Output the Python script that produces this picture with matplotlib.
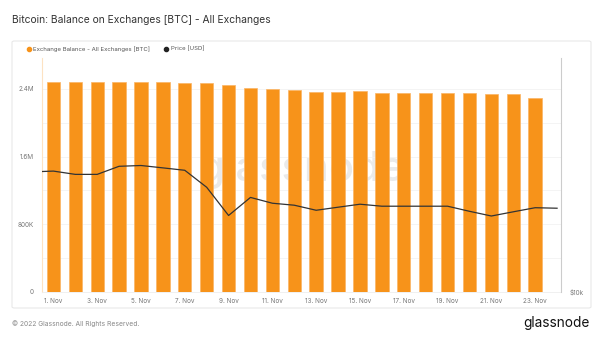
import matplotlib.pyplot as plt
import numpy as np
from matplotlib.lines import Line2D
from matplotlib.patches import FancyBboxPatch
from matplotlib.ticker import FixedLocator, FuncFormatter, NullLocator

plt.rcParams['font.family'] = ['Inter', 'DejaVu Sans']

# Daily exchange balance, 1-23 Nov 2022 (BTC)
balance_days = list(range(1, 24))
balance_btc = [2.486e6, 2.486e6, 2.479e6, 2.486e6, 2.486e6, 2.486e6, 2.474e6, 2.474e6,
               2.443e6, 2.415e6, 2.396e6, 2.384e6, 2.368e6, 2.361e6, 2.372e6, 2.349e6,
               2.356e6, 2.356e6, 2.356e6, 2.349e6, 2.340e6, 2.340e6, 2.293e6]

# Daily BTC price, 31 Oct - 24 Nov 2022 (USD); day 0 is 31 Oct
price_days = list(range(0, 25))
price_usd = [20500, 20600, 20200, 20200, 21200, 21300, 21000, 20700, 18700, 15800,
             17600, 17000, 16800, 16300, 16600, 16900, 16700, 16700, 16700, 16700,
             16200, 15750, 16150, 16550, 16500]

tick_days = list(range(1, 24, 2))
tick_labels = [f'{d}. Nov' for d in tick_days]

W, H = 602, 339
fig = plt.figure(figsize=(W / 100, H / 100), dpi=100)
fig.patch.set_facecolor('white')

# rounded panel behind the chart
panel = FancyBboxPatch((12 / W, 1 - 308 / H), 579 / W, 267 / H,
                       boxstyle='round,pad=0,rounding_size=0.004',
                       transform=fig.transFigure, facecolor='white',
                       edgecolor='#e8e8e8', linewidth=0.8, zorder=-5)
fig.add_artist(panel)

ax = fig.add_axes([42 / W, 1 - 292 / H, (561 - 42) / W, (292 - 58) / H])
ax.set_facecolor('none')

ax.text(0.5, 0.52, 'glassnode', transform=ax.transAxes, ha='center', va='center',
        fontsize=30, color='#eaeaea', fontweight='medium', zorder=0)

ax.bar(balance_days, balance_btc, width=0.61, color='#f7931a',
       edgecolor='#fbb565', linewidth=0.5, zorder=2)

ax.set_xlim(0.48, 24.18)
ax.set_ylim(0, 2.766e6)
ax.yaxis.set_major_locator(FixedLocator([0, 0.8e6, 1.6e6, 2.4e6]))
ax.yaxis.set_minor_locator(FixedLocator([0.4e6, 1.2e6, 2.0e6]))


def balance_fmt(v, pos):
    if v == 0:
        return '0'
    if v >= 1e6:
        return f'{v / 1e6:.1f}M'
    return f'{v / 1e3:.0f}K'


ax.yaxis.set_major_formatter(FuncFormatter(balance_fmt))
ax.grid(which='both', axis='y', color='#f2f2f2', linewidth=0.6, zorder=1)
ax.set_axisbelow(True)
ax.set_xticks(tick_days)
ax.set_xticklabels(tick_labels)
ax.tick_params(axis='both', which='both', length=0, labelsize=4.6, colors='#777777')
ax.tick_params(axis='y', pad=6)
ax.tick_params(axis='x', pad=4)

for side in ['top', 'right']:
    ax.spines[side].set_visible(False)
ax.spines['left'].set_color('#fde2c2')
ax.spines['left'].set_linewidth(0.8)
ax.spines['bottom'].set_color('#eeeeee')
ax.spines['bottom'].set_linewidth(0.6)

# price on a log scale, right axis
ax2 = ax.twinx()
ax2.plot(price_days, price_usd, color='#333333', linewidth=0.9, zorder=3)
ax2.set_yscale('log')
ax2.set_ylim(10000, 40500)
ax2.yaxis.set_major_locator(FixedLocator([10000]))
ax2.yaxis.set_minor_locator(NullLocator())
ax2.yaxis.set_major_formatter(FuncFormatter(lambda v, pos: f'${v / 1000:.0f}k'))
ax2.tick_params(axis='y', length=0, labelsize=4.6, colors='#777777', pad=6)
for side in ['top', 'left', 'bottom']:
    ax2.spines[side].set_visible(False)
ax2.spines['right'].set_color('#cccccc')
ax2.spines['right'].set_linewidth(0.8)

# title
fig.text(12 / W, 1 - 20 / H, 'Bitcoin: Balance on Exchanges [BTC] - All Exchanges',
         fontsize=7.4, color='#333333', va='center', ha='left')

# legend
leg_y = 1 - 49 / H
fig.add_artist(Line2D([29 / W], [leg_y], marker='o', markersize=3,
                      color='#f7931a', linestyle='none', transform=fig.transFigure))
fig.text(33 / W, leg_y, 'Exchange Balance - All Exchanges [BTC]', fontsize=4.35,
         color='#555555', va='center', ha='left')
fig.add_artist(Line2D([166 / W], [leg_y], marker='o', markersize=3,
                      color='#222222', linestyle='none', transform=fig.transFigure))
fig.text(171 / W, leg_y, 'Price [USD]', fontsize=4.35, color='#555555',
         va='center', ha='left')

# footer
fig.text(12 / W, 1 - 324 / H, '\u00a9 2022 Glassnode. All Rights Reserved.',
         fontsize=4.8, color='#888888', va='center', ha='left')
fig.text(590 / W, 1 - 323 / H, 'glassnode', fontsize=9.8, color='#111111',
         va='center', ha='right')

fig.savefig('out.png', dpi=100, facecolor='white')
